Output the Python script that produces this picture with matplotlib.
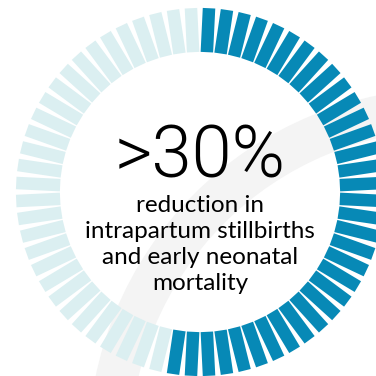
import numpy as np
import matplotlib
matplotlib.use("Agg")
import matplotlib.pyplot as plt
from matplotlib.patches import Polygon, Wedge

# ring of tick segments, first `filled` drawn dark going clockwise from 12 o'clock
n_segments = 64
filled = 34
headline = ">30%"
caption = ["reduction in", "intrapartum stillbirths", "and early neonatal", "mortality"]

dark = "#0789b6"
light = "#dbeff1"
swoosh = "#f4f4f4"

W = H = 376
cx, cy = 200, 192
r_in, r_out = 140, 184
seg_w = 12.5

fig = plt.figure(figsize=(W / 100, H / 100), dpi=100)
ax = fig.add_axes([0, 0, 1, 1])
ax.set_xlim(0, W)
ax.set_ylim(H, 0)
ax.set_aspect("equal")
ax.axis("off")

# faint background arc
ax.add_patch(Wedge((450, 450), 362, 0, 360, width=42, color=swoosh, lw=0, zorder=0))

for i in range(n_segments):
    theta = np.deg2rad((i + 0.5) * 360 / n_segments)
    d = np.array([np.sin(theta), -np.cos(theta)])
    p = np.array([np.cos(theta), np.sin(theta)])
    c = np.array([cx, cy])
    pts = [
        c + r_in * d - seg_w / 2 * p,
        c + r_out * d - seg_w / 2 * p,
        c + r_out * d + seg_w / 2 * p,
        c + r_in * d + seg_w / 2 * p,
    ]
    color = dark if i < filled else light
    ax.add_patch(Polygon(pts, closed=True, color=color, lw=0, zorder=2))

ax.text(cx, 158, headline, ha="center", va="center", fontsize=52,
        fontweight=300, family=["Roboto", "DejaVu Sans"], color="black", zorder=3)
for k, line in enumerate(caption):
    ax.text(cx, 205 + 26 * k, line, ha="center", va="center", fontsize=17.5,
            family=["Lato", "DejaVu Sans"], color="black", zorder=3)

fig.savefig("out.png", dpi=100)
